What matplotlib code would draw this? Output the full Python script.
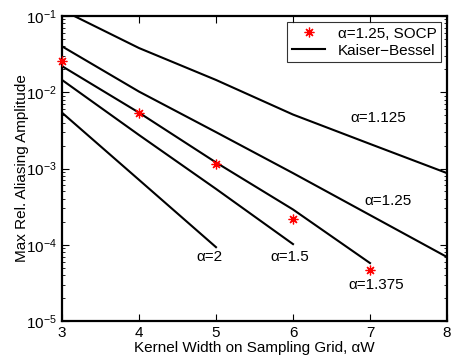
import numpy as np
import matplotlib
matplotlib.use("Agg")
import matplotlib.pyplot as plt
from matplotlib.ticker import LogLocator, NullFormatter

plt.rcParams['font.family'] = ['Liberation Sans', 'DejaVu Sans']
plt.rcParams['mathtext.fontset'] = 'custom'
plt.rcParams['mathtext.rm'] = 'Liberation Sans'

# Kaiser-Bessel curves
w_1125 = [3, 4, 5, 6, 7, 8]
kb_1125 = [0.12, 0.038, 0.0145, 0.0051, 0.0021, 0.00087]
w_125 = [3, 4, 5, 6, 7, 8]
kb_125 = [0.040, 0.0102, 0.0030, 0.00087, 0.000245, 0.000069]
w_1375 = [3, 4, 5, 6, 7]
kb_1375 = [0.022, 0.0054, 0.0012, 0.00029, 0.0000575]
w_15 = [3, 4, 5, 6]
kb_15 = [0.0145, 0.00275, 0.00054, 0.000102]
w_2 = [3, 4, 5]
kb_2 = [0.0054, 0.00071, 0.000093]

# SOCP, alpha = 1.25
w_socp = [3, 4, 5, 6, 7]
socp = [0.026, 0.0053, 0.00114, 0.00022, 0.000046]

labels = [("α=1.125", 378, 118), ("α=1.25", 388, 201), ("α=1.375", 376, 285),
          ("α=1.5", 290, 257), ("α=2", 209, 257)]

fig = plt.figure(figsize=(4.57, 3.58), dpi=100)
ax = fig.add_axes([62/457, 1-321/358, 385/457, 305/358])

lw = 1.5
ax.semilogy(w_1125, kb_1125, 'k-', lw=lw, label='Kaiser\u2212Bessel')
ax.semilogy(w_125, kb_125, 'k-', lw=lw)
ax.semilogy(w_1375, kb_1375, 'k-', lw=lw)
ax.semilogy(w_15, kb_15, 'k-', lw=lw)
ax.semilogy(w_2, kb_2, 'k-', lw=lw)
ax.semilogy(w_socp, socp, linestyle='none', marker=(8, 2, 0), ms=7, mew=0.9,
            color='red', label='α=1.25, SOCP', clip_on=False, zorder=5)

ax.set_xlim(3, 8)
ax.set_ylim(1e-5, 1e-1)
ax.set_xticks([3, 4, 5, 6, 7, 8])
ax.yaxis.set_major_locator(LogLocator(base=10, numticks=10))
ax.yaxis.set_minor_locator(LogLocator(base=10, subs=np.arange(2, 10), numticks=20))
ax.yaxis.set_minor_formatter(NullFormatter())
ax.tick_params(which='both', direction='in', top=True, right=True, labelsize=11)
ax.tick_params(which='major', length=5, width=0.8)
ax.tick_params(which='minor', length=2.5, width=0.6)
for s in ax.spines.values():
    s.set_linewidth(1.6)

for txt, px, py in labels:
    ax.annotate(txt, xy=(px/457, 1-py/358), xycoords='figure fraction',
                ha='center', va='center', fontsize=11)

ax.set_xlabel('Kernel Width on Sampling Grid, αW', fontsize=11, labelpad=1)
ax.set_ylabel('Max Rel. Aliasing Amplitude', fontsize=11, labelpad=-2)

h, l = ax.get_legend_handles_labels()
leg = ax.legend(h[::-1], l[::-1], loc='upper right', fontsize=11, frameon=True,
                fancybox=False, edgecolor='black', borderaxespad=0.4,
                handlelength=2.2, borderpad=0.3, labelspacing=0.2)
leg.get_frame().set_linewidth(0.8)

fig.savefig('out.png', dpi=100)
